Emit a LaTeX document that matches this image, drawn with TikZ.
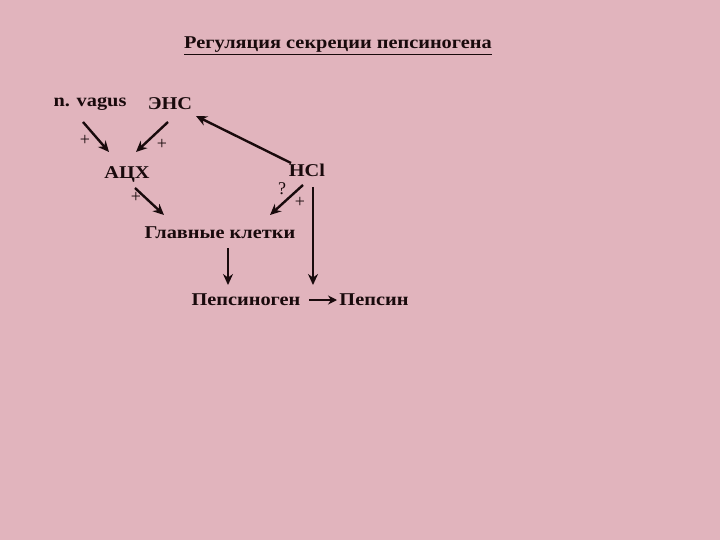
\documentclass[tikz,border=0pt]{standalone}
\usepackage{fontspec}
\setmainfont{Liberation Serif}
\usetikzlibrary{arrows.meta}
\definecolor{bg}{RGB}{225,180,189}
\definecolor{ink}{RGB}{25,10,12}
\newcommand\widetxt[1]{\scalebox{1.13}[1]{#1}}
\tikzset{
  lbl/.style={font=\fontsize{18}{20}\selectfont\bfseries, text=ink, inner sep=0pt},
  sgn/.style={font=\fontsize{18}{18}\selectfont, text=ink, inner sep=0pt},
  arr/.style={draw=ink, line width=2.4pt, -{Stealth[length=11pt,width=10pt]}},
}
\begin{document}
\begin{tikzpicture}[x=1pt,y=-1pt]
\fill[bg] (0,0) rectangle (720,540);
\useasboundingbox (0,0) rectangle (720,540);
\node[lbl] (title) at (338,46) {\widetxt{\underline{Регуляция секреции пепсиногена}}};
\node[lbl] (vagus) at (90,104) {\widetxt{n. vagus}};
\node[lbl] (ens) at (170,104) {\widetxt{ЭНС}};
\node[lbl] (ach) at (127,174) {\widetxt{АЦХ}};
\node[lbl] (hcl) at (307,170) {\widetxt{HCl}};
\node[lbl] (glav) at (220,233) {\widetxt{Главные клетки}};
\node[lbl] (pepg) at (246,300) {\widetxt{Пепсиноген}};
\node[lbl] (peps) at (374,300) {\widetxt{Пепсин}};
\node[sgn] (p1) at (85,140) {+};
\node[sgn] (p2) at (162,144) {+};
\node[sgn] (p3) at (136,197) {+};
\node[sgn] (p4) at (300,202) {+};
\node[sgn] (q) at (282,189) {?};
\coordinate (a1s) at (83,122); \coordinate (a1e) at (109,152);
\coordinate (a2s) at (168,122); \coordinate (a2e) at (136,152);
\coordinate (a3s) at (135,188); \coordinate (a3e) at (164,215);
\coordinate (a4s) at (291,163); \coordinate (a4e) at (196,116);
\coordinate (a5s) at (303,185); \coordinate (a5e) at (270,215);
\coordinate (a6s) at (313,187); \coordinate (a6e) at (313,285);
\coordinate (a7s) at (228,248); \coordinate (a7e) at (228,285);
\coordinate (a8s) at (309,300); \coordinate (a8e) at (337,300);
\draw[arr] (a1s) -- (a1e);
\draw[arr] (a2s) -- (a2e);
\draw[arr] (a3s) -- (a3e);
\draw[arr] (a4s) -- (a4e);
\draw[arr] (a5s) -- (a5e);
\draw[arr] (a6s) -- (a6e);
\draw[arr] (a7s) -- (a7e);
\draw[draw=ink, line width=1.6pt, -{Stealth[length=9pt,width=9pt]}] (a8s) -- (a8e);
\end{tikzpicture}
\end{document}
